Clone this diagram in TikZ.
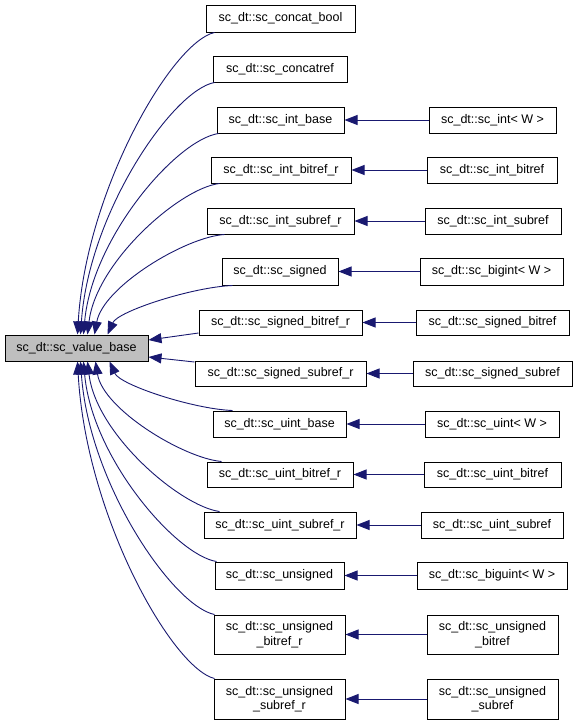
\documentclass[tikz,border=0pt]{standalone}
\usepackage{fontspec}
\setmainfont{Liberation Sans}
\usetikzlibrary{arrows.meta}
\definecolor{edgec}{RGB}{25,25,112}
\newcommand\mybox[7]{\node[#1,minimum width={#5-#3},minimum height={#6-#4}] (#2) at ({(#3+#5)/2},{(#4+#6)/2}) {#7};}
\begin{document}
\begin{tikzpicture}[x=1pt,y=-1pt,
 box/.style={draw=black,line width=1pt,fill=white,inner sep=0pt,align=center,font=\fontsize{12.5}{14.5}\selectfont},
 basebox/.style={box,fill=black!25},
 edge/.style={draw=edgec,line width=0.9pt,-{Triangle[length=13pt,width=10pt]}}]
\useasboundingbox (0,0) rectangle (577,726);
\mybox{basebox}{L}{5}{335}{148}{361}{sc\_dt::sc\_value\_base}
\mybox{box}{m1}{206}{5}{355}{32}{sc\_dt::sc\_concat\_bool}
\mybox{box}{m2}{213}{56}{347}{82}{sc\_dt::sc\_concatref}
\mybox{box}{m3}{217}{107}{344}{133}{sc\_dt::sc\_int\_base}
\mybox{box}{m4}{211}{157}{351}{183}{sc\_dt::sc\_int\_bitref\_r}
\mybox{box}{m5}{207}{208}{354}{234}{sc\_dt::sc\_int\_subref\_r}
\mybox{box}{m6}{222}{258}{338}{285}{sc\_dt::sc\_signed}
\mybox{box}{m7}{199}{310}{362}{335}{sc\_dt::sc\_signed\_bitref\_r}
\mybox{box}{m8}{195}{361}{366}{386}{sc\_dt::sc\_signed\_subref\_r}
\mybox{box}{m9}{213}{411}{346}{437}{sc\_dt::sc\_uint\_base}
\mybox{box}{m10}{207}{462}{353}{487}{sc\_dt::sc\_uint\_bitref\_r}
\mybox{box}{m11}{204}{512}{356}{538}{sc\_dt::sc\_uint\_subref\_r}
\mybox{box}{m12}{215}{562}{344}{589}{sc\_dt::sc\_unsigned}
\mybox{box}{m13}{214}{615}{345}{654}{sc\_dt::sc\_unsigned\\\_bitref\_r}
\mybox{box}{m14}{214}{679}{345}{719}{sc\_dt::sc\_unsigned\\\_subref\_r}
\mybox{box}{r3}{429}{107}{556}{133}{sc\_dt::sc\_int< W >}
\mybox{box}{r4}{427}{157}{557}{183}{sc\_dt::sc\_int\_bitref}
\mybox{box}{r5}{425}{208}{561}{234}{sc\_dt::sc\_int\_subref}
\mybox{box}{r6}{420}{258}{563}{285}{sc\_dt::sc\_bigint< W >}
\mybox{box}{r7}{416}{310}{569}{335}{sc\_dt::sc\_signed\_bitref}
\mybox{box}{r8}{413}{361}{572}{386}{sc\_dt::sc\_signed\_subref}
\mybox{box}{r9}{425}{411}{559}{437}{sc\_dt::sc\_uint< W >}
\mybox{box}{r10}{424}{462}{561}{487}{sc\_dt::sc\_uint\_bitref}
\mybox{box}{r11}{421}{512}{563}{538}{sc\_dt::sc\_uint\_subref}
\mybox{box}{r12}{417}{562}{567}{589}{sc\_dt::sc\_biguint< W >}
\mybox{box}{r13}{427}{615}{558}{654}{sc\_dt::sc\_unsigned\\\_bitref}
\mybox{box}{r14}{427}{679}{558}{719}{sc\_dt::sc\_unsigned\\\_subref}
% curved edges to the base class
\draw[edge] ([xshift=9pt]m1.south west) .. controls (172,42) and (86,190) .. ([xshift=73pt]L.north west);
\draw[edge] ([xshift=2pt]m2.south west) .. controls (173,90) and (89,212) .. ([xshift=76pt]L.north west);
\draw[edge] ([xshift=2pt]m3.south west) .. controls (176,140) and (92,238) .. ([xshift=79pt]L.north west);
\draw[edge] ([xshift=9pt]m4.south west) .. controls (180,188) and (96,262) .. ([xshift=83pt]L.north west);
\draw[edge] ([xshift=18pt]m5.south west) .. controls (185,237) and (103,287) .. ([xshift=90pt]L.north west);
\draw[edge] ([xshift=11pt]m6.south west) .. controls (193,287) and (118,311) .. ([xshift=103pt]L.north west);
\draw[edge] ([yshift=-10.5pt]m7.west) -- ([yshift=8pt]L.east);
\draw[edge] ([yshift=11.5pt]m8.west) -- ([yshift=-9pt]L.east);
\draw[edge] ([xshift=20pt]m9.north west) .. controls (193,409) and (120,385) .. ([xshift=105pt]L.south west);
\draw[edge] ([xshift=15pt]m10.north west) .. controls (183,458) and (103,409) .. ([xshift=91pt]L.south west);
\draw[edge] ([xshift=16pt]m11.north west) .. controls (180,506) and (96,434) .. ([xshift=83pt]L.south west);
\draw[edge] ([xshift=2pt]m12.north west) .. controls (176,555) and (92,458) .. ([xshift=79pt]L.south west);
\draw[edge] ([xshift=1pt]m13.north west) .. controls (173,606) and (89,484) .. ([xshift=76pt]L.south west);
\draw[edge] ([xshift=1pt]m14.north west) .. controls (172,668) and (86,516) .. ([xshift=73pt]L.south west);
% straight edges
\foreach \i in {3,...,14} { \draw[edge] (r\i.west) -- (m\i.east); }
\end{tikzpicture}
\end{document}
